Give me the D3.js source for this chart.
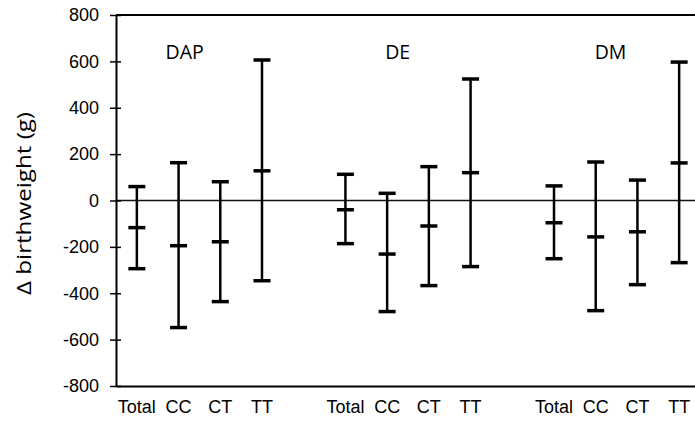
<!DOCTYPE html>
<html>
<head>
<meta charset="utf-8">
<script src="https://cdn.jsdelivr.net/npm/d3@7"></script>
<style>
  body { margin: 0; background: #fff; }
  .tick text { font-family: "Liberation Sans", Arial, sans-serif; }
</style>
</head>
<body>
<div id="chart"></div>
<script>
// groups and genotypes, empty slots give the gap between groups
var groups = ["DAP", "DE", "DM"];
var genotypes = ["Total", "CC", "CT", "TT"];
var slots = ["DAP|Total","DAP|CC","DAP|CT","DAP|TT","gap1",
             "DE|Total","DE|CC","DE|CT","DE|TT","gap2",
             "DM|Total","DM|CC","DM|CT","DM|TT"];

// mean difference and 95% CI bounds (g)
var estDAP   = [-117, -195, -178, 128];
var lowerDAP = [-294, -548, -436, -346];
var upperDAP = [60, 163, 81, 606];

var estDE   = [-40, -231, -110, 120];
var lowerDE = [-186, -479, -367, -285];
var upperDE = [113, 31, 146, 524];

var estDM   = [-96, -157, -135, 162];
var lowerDM = [-251, -475, -363, -268];
var upperDM = [63, 166, 88, 597];

var yTicks = [-800, -600, -400, -200, 0, 200, 400, 600, 800];

var est = {DAP: estDAP, DE: estDE, DM: estDM};
var lower = {DAP: lowerDAP, DE: lowerDE, DM: lowerDM};
var upper = {DAP: upperDAP, DE: upperDE, DM: upperDM};

var data = [];
groups.forEach(function(g) {
  genotypes.forEach(function(t, i) {
    data.push({key: g + "|" + t, group: g, type: t, est: est[g][i], lo: lower[g][i], hi: upper[g][i]});
  });
});

var W = 695, H = 421;
var margin = {top: 15, right: -5, bottom: 35, left: 116};
var width = W - margin.left - margin.right,
    height = H - margin.top - margin.bottom;

var svg = d3.select("#chart").append("svg")
    .attr("width", W)
    .attr("height", H)
  .append("g")
    .attr("transform", "translate(" + margin.left + "," + margin.top + ")");

var x = d3.scaleBand().domain(slots).range([0, width]);
var y = d3.scaleLinear().domain([-800, 800]).range([height, 0]);

// top frame line
svg.append("line")
    .attr("x1", 0).attr("x2", width)
    .attr("y1", 0).attr("y2", 0)
    .attr("stroke", "#000").attr("stroke-width", 2);

// zero line
svg.append("line")
    .attr("x1", 0).attr("x2", width)
    .attr("y1", y(0)).attr("y2", y(0))
    .attr("stroke", "#111").attr("stroke-width", 1.3);

// y axis, ticks cross the line
var yAxis = svg.append("g")
    .call(d3.axisLeft(y).tickValues(yTicks).tickSize(0).tickPadding(17)
      .tickFormat(function(d) { return String(d); }));
yAxis.select(".domain").attr("stroke-width", 2);
yAxis.selectAll(".tick text").style("font-size", "18px").attr("fill", "#000");
yAxis.selectAll(".tick").append("line")
    .attr("x1", -6).attr("x2", 5)
    .attr("stroke", "#000").attr("stroke-width", 1.5);

// x axis
var xAxis = svg.append("g")
    .attr("transform", "translate(0," + height + ")")
    .call(d3.axisBottom(x).tickSize(0).tickPadding(14)
      .tickFormat(function(d) { return d.indexOf("|") < 0 ? "" : d.split("|")[1]; }));
xAxis.select(".domain").attr("stroke-width", 2);
xAxis.selectAll(".tick text").style("font-size", "18px").attr("fill", "#000");

// error bars
var capW = 17;
var bars = svg.selectAll(".bar")
    .data(data)
  .enter().append("g")
    .attr("class", "bar")
    .attr("transform", function(d) { return "translate(" + (x(d.key) + x.bandwidth() / 2) + ",0)"; });

bars.append("line")
    .attr("y1", function(d) { return y(d.lo); })
    .attr("y2", function(d) { return y(d.hi); })
    .attr("stroke", "#000").attr("stroke-width", 2.5);

["lo", "est", "hi"].forEach(function(k) {
  bars.append("line")
      .attr("x1", -capW / 2).attr("x2", capW / 2)
      .attr("y1", function(d) { return y(d[k]); })
      .attr("y2", function(d) { return y(d[k]); })
      .attr("stroke", "#000").attr("stroke-width", 3.5);
});

// group labels
var labelShift = [-13, -2, -1];
svg.selectAll(".glabel")
    .data(groups)
  .enter().append("text")
    .attr("class", "glabel")
    .attr("x", function(g, i) { return x(g + "|CC") + x.bandwidth() / 2 + labelShift[i]; })
    .attr("y", 44)
    .attr("font-family", "'Open Sans', sans-serif")
    .attr("font-size", "19.5px")
    .text(function(g) { return g; });

// y axis title
svg.append("text")
    .attr("transform", "rotate(-90)")
    .attr("x", -(y(0) + 3))
    .attr("y", -85)
    .attr("text-anchor", "middle")
    .attr("font-family", "'Open Sans', sans-serif")
    .attr("font-size", "20px")
    .attr("textLength", 183)
    .attr("lengthAdjust", "spacingAndGlyphs")
    .text("Δ birthweight (g)");
</script>
</body>
</html>
